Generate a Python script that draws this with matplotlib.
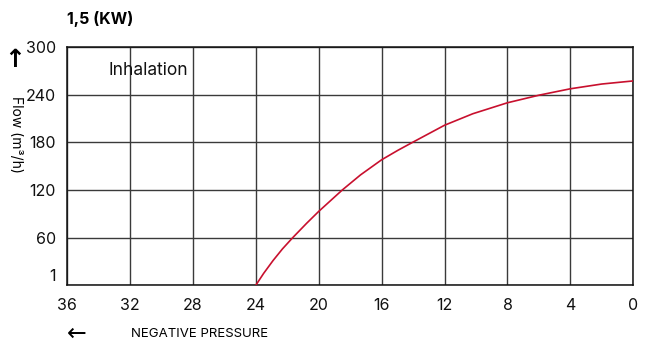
import numpy as np
import matplotlib
matplotlib.use("Agg")
import matplotlib.pyplot as plt
import matplotlib.transforms as mtransforms

plt.rcParams['font.family'] = ['Inter', 'DejaVu Sans']

# values
pressure = [24, 23.5, 22.9, 22.3, 21.65, 20.77, 20.0, 18.5, 17.34, 16, 14.96, 14.03,
            12.85, 12, 10.2, 8, 5.96, 4, 2, 0]
flow = [0, 15, 31.2, 45.9, 60, 78, 93, 120, 139, 158, 170, 180,
        192.5, 201.5, 216, 229.8, 239.5, 247.4, 253.4, 257.3]

xticks = [36, 32, 28, 24, 20, 16, 12, 8, 4, 0]
yticks = [0, 60, 120, 180, 240, 300]
ytick_labels = ['1', '60', '120', '180', '240', '300']

title = '1,5 (KW)'
series_label = 'Inhalation'

fig = plt.figure(figsize=(6.48, 3.45), dpi=100)
ax = fig.add_axes([67 / 648, 1 - 285.3 / 345, (633.3 - 67) / 648, (285.3 - 47) / 345])

ax.plot(pressure, flow, color='#c8102e', linewidth=1.2, zorder=3,
        solid_joinstyle='round')

ax.set_xlim(36, 0)
ax.set_ylim(0, 300)
ax.set_xticks(xticks)
ax.set_xticklabels([str(v) for v in xticks])
ax.set_yticks(yticks)
ax.set_yticklabels(ytick_labels)
ax.tick_params(length=0, labelsize=11.5, colors='#111111')
ax.tick_params(axis='x', pad=9)
ax.tick_params(axis='y', pad=8)

# the "1" label sits a little above the bottom line
lbl = ax.get_yticklabels()[0]
lbl.set_transform(lbl.get_transform() + mtransforms.ScaledTranslation(0, 10 / 100, fig.dpi_scale_trans))

ax.grid(True, color='#3a3a3a', linewidth=1.0)
ax.set_axisbelow(True)
for s in ax.spines.values():
    s.set_color('#111111')
    s.set_linewidth(1.1)

ax.text(33.34, 270, series_label, fontsize=12.5, color='#111111', va='center', ha='left')

fig.text(67 / 648, 1 - 19 / 345, title, fontsize=11.5, fontweight='bold', va='center', ha='left')
fig.text(15 / 648, 1 - 60 / 345, '\u2191', fontsize=18, fontweight='bold', va='center', ha='center',
         family=['DejaVu Sans'])
fig.text(16 / 648, 1 - 135 / 345, 'Flow (m\u00b3/h)', fontsize=10, rotation=270, va='center', ha='center')
fig.text(77 / 648, 1 - 334 / 345, '\u2190', fontsize=17, va='center', ha='center', family=['DejaVu Sans'])
fig.text(131 / 648, 1 - 334 / 345, 'NEGATIVE PRESSURE', fontsize=9.5, va='center', ha='left')

fig.savefig('out.png', dpi=100)
